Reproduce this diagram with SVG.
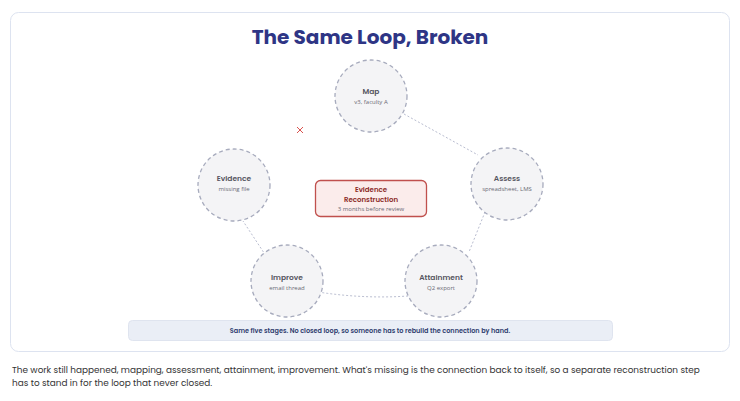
<svg xmlns="http://www.w3.org/2000/svg" width="740" height="401" viewBox="0 0 740 401">
<style>
.node circle{fill:#f4f4f6;stroke:#a7abbd;stroke-width:1.3;stroke-dasharray:4 3}
.t{font-family:Poppins,"Open Sans","Liberation Sans",sans-serif;font-weight:600;font-size:7.5px;fill:#55555f;text-anchor:middle}
.s{font-family:"Open Sans","Liberation Sans",sans-serif;font-size:6px;fill:#6a6a75;text-anchor:middle}
.c{fill:none;stroke:#b9bdd0;stroke-width:1;stroke-dasharray:2 2}
</style>
<rect width="740" height="401" fill="#fff"/>
<rect x="10.5" y="12.5" width="719" height="339" rx="8" fill="#fff" stroke="#dde3f0"/>
<text x="370" y="44" font-family="Poppins,'Open Sans','Liberation Sans',sans-serif" font-weight="700" font-size="20" fill="#2e3585" text-anchor="middle">The Same Loop, Broken</text>
<g id="connectors">
<path class="c" d="M404,114 L478,155"/>
<path class="c" d="M491,197 L469,252"/>
<path class="c" d="M420,295 Q370,300 318,292"/>
<path class="c" d="M270,262 L243,221"/>
<g stroke="#d9534f" stroke-width="1"><line x1="297" y1="127" x2="303" y2="133"/><line x1="303" y1="127" x2="297" y2="133"/></g>
</g>
<g id="map" class="node"><circle cx="371" cy="96" r="36"/><text class="t" x="371" y="94">Map</text><text class="s" x="371" y="104">v3, faculty A</text></g>
<g id="assess" class="node"><circle cx="507" cy="184" r="36"/><text class="t" x="507" y="181">Assess</text><text class="s" x="507" y="191">spreadsheet, LMS</text></g>
<g id="attainment" class="node"><circle cx="441" cy="281" r="36"/><text class="t" x="441" y="280">Attainment</text><text class="s" x="441" y="290">Q2 export</text></g>
<g id="improve" class="node"><circle cx="287" cy="281" r="36"/><text class="t" x="287" y="280">Improve</text><text class="s" x="287" y="290">email thread</text></g>
<g id="evidence" class="node"><circle cx="234" cy="185" r="36"/><text class="t" x="234" y="181">Evidence</text><text class="s" x="234" y="191">missing file</text></g>
<g id="reconstruction"><rect x="315.5" y="180.5" width="111" height="36" rx="5" fill="#fbeceb" stroke="#c0504d" stroke-width="1.3"/><text class="t" x="371" y="192" style="fill:#8b2a27;font-size:7px">Evidence</text><text class="t" x="371" y="201.5" style="fill:#8b2a27;font-size:7px">Reconstruction</text><text class="s" x="371" y="211">3 months before review</text></g>
<g id="banner"><rect x="128.5" y="320.5" width="484" height="20" rx="4" fill="#eaeef6" stroke="#dfe4ef"/><text x="370" y="333" font-family="Poppins,'Open Sans','Liberation Sans',sans-serif" font-weight="600" font-size="6.5" fill="#2e3c6e" text-anchor="middle">Same five stages. No closed loop, so someone has to rebuild the connection by hand.</text></g>
<g font-family="Poppins,'Open Sans','Liberation Sans',sans-serif" font-size="8.9" fill="#333">
<text x="12" y="373">The work still happened, mapping, assessment, attainment, improvement. What's missing is the connection back to itself, so a separate reconstruction step</text>
<text x="12" y="386">has to stand in for the loop that never closed.</text>
</g>
</svg>
